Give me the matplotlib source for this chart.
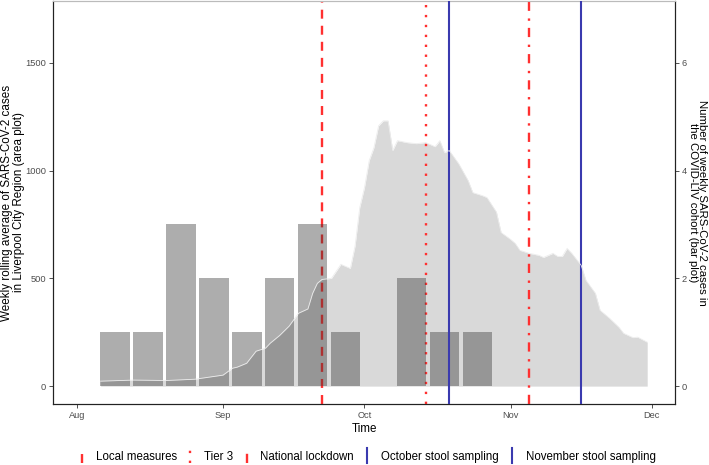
import matplotlib
matplotlib.use("Agg")
import matplotlib.pyplot as plt
import matplotlib.dates as mdates
import pandas as pd
from matplotlib.lines import Line2D
from matplotlib.legend_handler import HandlerLine2D

plt.rcParams['font.family'] = ['Liberation Sans', 'DejaVu Sans']

# weekly rolling average, Liverpool City Region
area_dates = ["2020-08-06", "2020-08-13", "2020-08-20", "2020-08-26", "2020-09-01",
              "2020-09-03", "2020-09-04", "2020-09-06", "2020-09-08", "2020-09-10",
              "2020-09-11", "2020-09-13", "2020-09-15", "2020-09-17", "2020-09-19",
              "2020-09-20", "2020-09-21", "2020-09-22", "2020-09-24", "2020-09-26",
              "2020-09-28", "2020-09-29", "2020-09-30", "2020-10-01", "2020-10-02",
              "2020-10-03", "2020-10-04", "2020-10-05", "2020-10-06", "2020-10-07",
              "2020-10-08", "2020-10-10", "2020-10-12", "2020-10-14", "2020-10-16",
              "2020-10-17", "2020-10-18", "2020-10-19", "2020-10-21", "2020-10-23",
              "2020-10-24", "2020-10-26", "2020-10-27", "2020-10-29", "2020-10-30",
              "2020-11-01", "2020-11-02", "2020-11-03", "2020-11-05", "2020-11-07",
              "2020-11-08", "2020-11-10", "2020-11-11", "2020-11-12", "2020-11-13",
              "2020-11-14", "2020-11-16", "2020-11-17", "2020-11-19", "2020-11-20",
              "2020-11-22", "2020-11-24", "2020-11-25", "2020-11-27", "2020-11-28",
              "2020-11-30"]
area_vals = [23, 28, 26, 32, 51,
             83, 88, 106, 162, 176,
             199, 235, 278, 338, 358,
             430, 477, 495, 500, 565,
             546, 650, 829, 921, 1046,
             1106, 1208, 1231, 1231, 1093,
             1139, 1130, 1125, 1130, 1111,
             1139, 1083, 1093, 1032, 954,
             898, 884, 875, 808, 713,
             681, 662, 630, 616, 607,
             597, 616, 602, 602, 639,
             616, 560, 491, 431, 352,
             315, 273, 245, 225, 227,
             204]

# weekly cases in the COVID-LIV cohort
bar_dates = ["2020-08-09", "2020-08-16", "2020-08-23", "2020-08-30", "2020-09-06",
             "2020-09-13", "2020-09-20", "2020-09-27", "2020-10-11", "2020-10-18",
             "2020-10-25"]
bar_counts = [1, 1, 3, 2, 1, 2, 3, 1, 2, 1, 1]

events = ["Local measures", "Tier 3", "National lockdown"]
event_dates = ["2020-09-22", "2020-10-14", "2020-11-05"]
event_styles = [(0, (3.8, 3.0)), (0, (1.0, 3.2)), (0, (3.9, 3.0, 1.0, 3.2))]

samplings = ["October stool sampling", "November stool sampling"]
sampling_dates = ["2020-10-19", "2020-11-16"]

tick_dates = ["2020-08-01", "2020-09-01", "2020-10-01", "2020-11-01", "2020-12-01"]
tick_labels = ["Aug", "Sep", "Oct", "Nov", "Dec"]

red = '#FF3030'
blue = '#3A3AAF'


class VLineHandler(HandlerLine2D):
    def create_artists(self, legend, orig_handle, xdescent, ydescent,
                       width, height, fontsize, trans):
        x = width / 2 - xdescent
        line = Line2D([x, x], [-ydescent - 2, height - ydescent + 2])
        self.update_prop(line, orig_handle, legend)
        line.set_transform(trans)
        return [line]


ad = pd.to_datetime(area_dates)
bd = pd.to_datetime(bar_dates)

fig = plt.figure(figsize=(7.09, 4.65), dpi=100)
ax = fig.add_axes([53 / 709, 61 / 465, 622 / 709, 403 / 465])
ax2 = ax.twinx()

ax.fill_between(ad, 0, area_vals, color='#D9D9D9', lw=0, zorder=1)

handles = []
for name, d, ls in zip(events, event_dates, event_styles):
    ax.axvline(pd.Timestamp(d), color=red, lw=1.7, linestyle=ls, zorder=3)
    handles.append(Line2D([], [], color=red, lw=1.7, linestyle=ls, label=name))

ax2.bar(bd, bar_counts, width=6.3, color='#333333', alpha=0.4, lw=0, zorder=2)

for name, d in zip(samplings, sampling_dates):
    ax2.axvline(pd.Timestamp(d), color=blue, lw=1.5, zorder=3)
    handles.append(Line2D([], [], color=blue, lw=1.5, label=name))

ax2.plot(ad, area_vals, color='#EDEDED', lw=0.6, zorder=4, transform=ax.transData)

x0 = mdates.date2num(pd.Timestamp("2020-08-01")) - 5.1
x1 = mdates.date2num(pd.Timestamp("2020-12-01")) + 4.9
ax.set_xlim(x0, x1)
ax.set_ylim(-83, 1787)
ax2.set_ylim(-83 / 250, 1787 / 250)

ax.set_yticks([0, 500, 1000, 1500])
ax2.set_yticks([0, 2, 4, 6])
ax.set_xticks(pd.to_datetime(tick_dates))
ax.set_xticklabels(tick_labels)

for a in (ax, ax2):
    a.tick_params(labelsize=6.7, labelcolor='#4D4D4D', color='#333333',
                  length=3, width=0.6, pad=2)
    for s in a.spines.values():
        s.set_linewidth(0.8)
        s.set_color('#222222')
    a.spines['top'].set_color('#BBBBBB')

ax.set_xlabel("Time", fontsize=8.4, labelpad=2)
ax.set_ylabel("Weekly rolling average of SARS-CoV-2 cases\nin Liverpool City Region (area plot)",
              fontsize=8.4, linespacing=0.95, va='center')
ax.yaxis.set_label_coords(-0.064, 0.5)
ax2.set_ylabel("Number of weekly SARS-CoV-2 cases in\nthe COVID-LIV cohort (bar plot)",
               fontsize=8.2, linespacing=0.88, rotation=270, va='center')
ax2.yaxis.set_label_coords(1.036, 0.5)

fig.legend(handles=handles, loc='center', bbox_to_anchor=(0.518, 0.018),
           ncol=5, frameon=False, fontsize=8.3,
           handler_map={Line2D: VLineHandler()},
           handlelength=0.6, handleheight=0.8, handletextpad=0.9,
           columnspacing=0.85, borderpad=0.2)

fig.savefig("out.png", dpi=100)
